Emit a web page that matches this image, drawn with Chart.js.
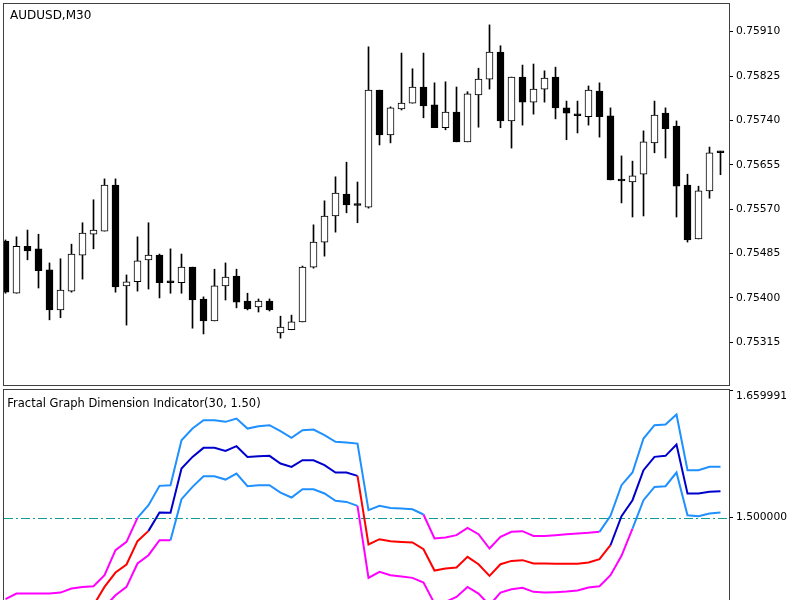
<!DOCTYPE html>
<html>
<head>
<meta charset="utf-8">
<title>AUDUSD,M30</title>
<script src="https://cdn.jsdelivr.net/npm/chart.js@4.4.1/dist/chart.umd.min.js"></script>
<style>
    html, body { margin: 0; padding: 0; background: #fff; width: 800px; height: 600px; overflow: hidden; }
    canvas { position: absolute; left: 0; }
    #grafPrecio { top: 0; }
    #grafIndicador { top: 386px; }
</style>
</head>
<body>
<canvas id="grafPrecio" width="800" height="388"></canvas>
<canvas id="grafIndicador" width="800" height="260"></canvas>
<script>
// CANDLES AUDUSD M30
const openP = [0.75509,0.75409,0.75499,0.75494,0.75454,0.75377,0.75413,0.75482,0.75522,0.75528,
    0.75616,0.75423,0.75431,0.75473,0.75482,0.75431,0.75429,0.75459,0.75398,0.75356,
    0.75423,0.75442,0.75394,0.75383,0.75394,0.75333,0.75339,0.75354,0.75459,0.75507,
    0.75557,0.75599,0.75579,0.75574,0.75798,0.75712,0.75762,0.75773,0.75804,0.75770,
    0.75726,0.75756,0.75699,0.75789,0.75819,0.75871,0.75739,0.75823,0.75775,0.75800,
    0.75823,0.75764,0.75752,0.75747,0.75796,0.75749,0.75626,0.75622,0.75637,0.75697,
    0.75754,0.75729,0.75616,0.75513,0.75605,0.75680];
const highP = [0.75511,0.75517,0.75530,0.75522,0.75467,0.75475,0.75503,0.75544,0.75588,0.75628,
    0.75628,0.75444,0.75517,0.75544,0.75484,0.75494,0.75484,0.75459,0.75402,0.75455,
    0.75467,0.75455,0.75409,0.75398,0.75398,0.75365,0.75367,0.75461,0.75540,0.75586,
    0.75632,0.75660,0.75622,0.75881,0.75798,0.75766,0.75869,0.75839,0.75869,0.75812,
    0.75814,0.75804,0.75795,0.75840,0.75923,0.75883,0.75823,0.75846,0.75848,0.75835,
    0.75842,0.75777,0.75777,0.75806,0.75812,0.75764,0.75672,0.75662,0.75720,0.75777,
    0.75764,0.75739,0.75637,0.75614,0.75689,0.75681];
const lowP = [0.75409,0.75409,0.75473,0.75419,0.75358,0.75362,0.75411,0.75436,0.75494,0.75528,
    0.75411,0.75348,0.75413,0.75417,0.75400,0.75409,0.75409,0.75342,0.75331,0.75356,
    0.75396,0.75381,0.75377,0.75373,0.75375,0.75323,0.75339,0.75354,0.75457,0.75480,
    0.75526,0.75563,0.75544,0.75572,0.75693,0.75697,0.75760,0.75773,0.75745,0.75726,
    0.75722,0.75699,0.75699,0.75727,0.75800,0.75726,0.75687,0.75731,0.75752,0.75775,
    0.75743,0.75703,0.75716,0.75731,0.75708,0.75626,0.75582,0.75555,0.75557,0.75678,
    0.75668,0.75555,0.75507,0.75513,0.75591,0.75636];
const closeP = [0.75411,0.75499,0.75490,0.75452,0.75377,0.75415,0.75484,0.75524,0.75530,0.75616,
    0.75421,0.75431,0.75471,0.75482,0.75429,0.75429,0.75459,0.75396,0.75356,0.75423,
    0.75440,0.75392,0.75379,0.75394,0.75377,0.75344,0.75354,0.75459,0.75507,0.75557,
    0.75601,0.75578,0.75577,0.75798,0.75712,0.75764,0.75773,0.75804,0.75768,0.75726,
    0.75756,0.75699,0.75791,0.75819,0.75871,0.75739,0.75823,0.75775,0.75800,0.75821,
    0.75764,0.75754,0.75749,0.75798,0.75747,0.75626,0.75624,0.75634,0.75699,0.75750,
    0.75724,0.75614,0.75511,0.75605,0.75678,0.75678];
const priceTicks = [0.75315, 0.75400, 0.75485, 0.75570, 0.75655, 0.75740, 0.75825, 0.75910];
const priceMin = 0.752332;
const priceMax = 0.759630;

// FRACTAL GRAPH DIMENSION (30, 1.50)
const fgdUpper = [1.3979,1.4050,1.4050,1.4050,1.4050,1.4062,1.4113,1.4133,1.4142,1.4280,
    1.4593,1.4697,1.4998,1.5157,1.5399,1.5407,1.5971,1.6117,1.6222,1.6222,
    1.6201,1.6242,1.6117,1.6146,1.6159,1.6084,1.6000,1.6096,1.6105,1.6034,
    1.5950,1.5942,1.5929,1.5094,1.5148,1.5123,1.5115,1.5106,1.5040,1.4739,
    1.4752,1.4781,1.4873,1.4793,1.4614,1.4760,1.4823,1.4831,1.4772,1.4772,
    1.4781,1.4793,1.4802,1.4810,1.4823,1.5023,1.5407,1.5566,1.5992,1.6159,
    1.6167,1.6293,1.5595,1.5595,1.5637,1.5637];
const fgdMain = [1.3632,1.3695,1.3695,1.3695,1.3703,1.3720,1.3770,1.3820,1.3904,1.4133,
    1.4313,1.4413,1.4706,1.4835,1.5065,1.5061,1.5616,1.5762,1.5875,1.5875,
    1.5837,1.5896,1.5762,1.5771,1.5775,1.5679,1.5637,1.5720,1.5720,1.5658,
    1.5566,1.5566,1.5524,1.4664,1.4731,1.4706,1.4697,1.4689,1.4605,1.4338,
    1.4363,1.4376,1.4509,1.4417,1.4271,1.4417,1.4459,1.4468,1.4426,1.4426,
    1.4422,1.4422,1.4422,1.4438,1.4480,1.4655,1.5019,1.5219,1.5595,1.5762,
    1.5775,1.5917,1.5303,1.5303,1.5324,1.5332];
const fgdLower = [1.3319,1.3361,1.3361,1.3361,1.3369,1.3382,1.3423,1.3494,1.3653,1.3883,
    1.4029,1.4133,1.4426,1.4530,1.4718,1.4718,1.5232,1.5386,1.5520,1.5520,
    1.5478,1.5553,1.5395,1.5407,1.5407,1.5315,1.5253,1.5357,1.5357,1.5303,
    1.5211,1.5198,1.5148,1.4246,1.4321,1.4280,1.4263,1.4246,1.4188,1.3925,
    1.3946,1.4008,1.4133,1.4050,1.3904,1.4062,1.4104,1.4121,1.4071,1.4062,
    1.4067,1.4075,1.4087,1.4125,1.4142,1.4280,1.4522,1.4864,1.5219,1.5386,
    1.5395,1.5566,1.5031,1.5019,1.5052,1.5065];
const fgdLevel = 1.5;
const fgdTicks = [1.5, 1.659991];
const fgdMin = 1.34677;
const fgdMax = 1.659991;

const bars = openP.map((_, i) => i);
const xMin = -0.1364;
const xMax = 65.7727;
const axisFont = { family: 'DejaVu Sans', size: 10.7 };

// FRAME + CAPTION INSIDE THE PANEL
const panelFrame = {
    id: 'panelFrame',
    afterDraw(chart, args, opts) {
        const { ctx, chartArea: a } = chart;
        ctx.save();
        ctx.strokeStyle = '#404040';
        ctx.lineWidth = 1;
        ctx.strokeRect(a.left - 0.5, a.top - 0.5, a.right - a.left + 1, a.bottom - a.top + 1);
        ctx.font = opts.font;
        ctx.fillStyle = '#000';
        ctx.textBaseline = 'alphabetic';
        ctx.fillText(opts.text, a.left + opts.dx, a.top + opts.dy);
        ctx.restore();
    }
};

// LEVEL LINE
const levelLine = {
    id: 'levelLine',
    beforeDatasetsDraw(chart, args, opts) {
        const { ctx, chartArea: a, scales } = chart;
        const py = Math.round(scales.y.getPixelForValue(opts.value)) + 0.5;
        ctx.save();
        ctx.strokeStyle = opts.color;
        ctx.lineWidth = 1;
        ctx.setLineDash([9, 3, 2, 3]);
        ctx.beginPath();
        ctx.moveTo(a.left, py);
        ctx.lineTo(a.right, py);
        ctx.stroke();
        ctx.restore();
    }
};

function rightAxis(min, max, tickValues, fmt) {
    return {
        position: 'right',
        min: min,
        max: max,
        afterBuildTicks: s => { s.ticks = tickValues.map(v => ({ value: v })); },
        afterFit: s => {
            s.width = 71;
            s.paddingTop = 0;
            s.paddingBottom = 0;
        },
        grid: { drawOnChartArea: false, drawTicks: true, tickLength: 4, color: '#000' },
        border: { display: true, color: '#000', width: 1 },
        ticks: { color: '#000', font: axisFont, padding: 3, autoSkip: false, callback: fmt }
    };
}

// PRICE CHART
new Chart(document.getElementById('grafPrecio'), {
    type: 'bar',
    data: {
        datasets: [{
            label: 'body',
            data: bars.map(i => ({ x: i, y: [openP[i], closeP[i]] })),
            backgroundColor: ctx => closeP[ctx.dataIndex] >= openP[ctx.dataIndex] ? '#ffffff' : '#000000',
            borderColor: '#000000',
            borderWidth: 1,
            borderSkipped: false,
            barThickness: 7,
            minBarLength: 2,
            grouped: false,
            order: 1
        }, {
            label: 'wick',
            data: bars.map(i => ({ x: i, y: [lowP[i], highP[i]] })),
            backgroundColor: '#000000',
            borderWidth: 0,
            barThickness: 1,
            grouped: false,
            order: 2
        }]
    },
    options: {
        responsive: false,
        animation: false,
        events: [],
        layout: { padding: { left: 4, top: 4, right: 0, bottom: 3 } },
        scales: {
            x: { type: 'linear', display: false, offset: false, min: xMin, max: xMax },
            y: rightAxis(priceMin, priceMax, priceTicks, v => v.toFixed(5))
        },
        plugins: {
            legend: { display: false },
            tooltip: { enabled: false },
            panelFrame: { text: 'AUDUSD,M30', font: '12px "DejaVu Sans"', dx: 6, dy: 14.5 }
        }
    },
    plugins: [panelFrame]
});

// INDICATOR CHART
const upColor = '#1e90ff';
const downColor = '#ff00ff';
function fgdSet(values, up, down, width) {
    return {
        data: bars.map(i => ({ x: i, y: values[i] })),
        borderColor: up,
        borderWidth: width,
        pointRadius: 0,
        tension: 0,
        segment: { borderColor: ctx => ctx.p1.parsed.y > fgdLevel ? up : down }
    };
}

new Chart(document.getElementById('grafIndicador'), {
    type: 'line',
    data: {
        datasets: [
            fgdSet(fgdMain, '#0000cd', '#ff0000', 2),
            fgdSet(fgdUpper, upColor, downColor, 2),
            fgdSet(fgdLower, upColor, downColor, 2)
        ]
    },
    options: {
        responsive: false,
        animation: false,
        events: [],
        layout: { padding: { left: 4, top: 4, right: 0, bottom: 6 } },
        scales: {
            x: { type: 'linear', display: false, offset: false, min: xMin, max: xMax },
            y: rightAxis(fgdMin, fgdMax, fgdTicks, v => v === fgdMax ? ['', v.toFixed(6)] : v.toFixed(6))
        },
        plugins: {
            legend: { display: false },
            tooltip: { enabled: false },
            panelFrame: { text: 'Fractal Graph Dimension Indicator(30, 1.50)', font: '11.5px "DejaVu Sans"', dx: 3.3, dy: 16.7 },
            levelLine: { value: fgdLevel, color: '#139c96' }
        }
    },
    plugins: [panelFrame, levelLine]
});
</script>
</body>
</html>
